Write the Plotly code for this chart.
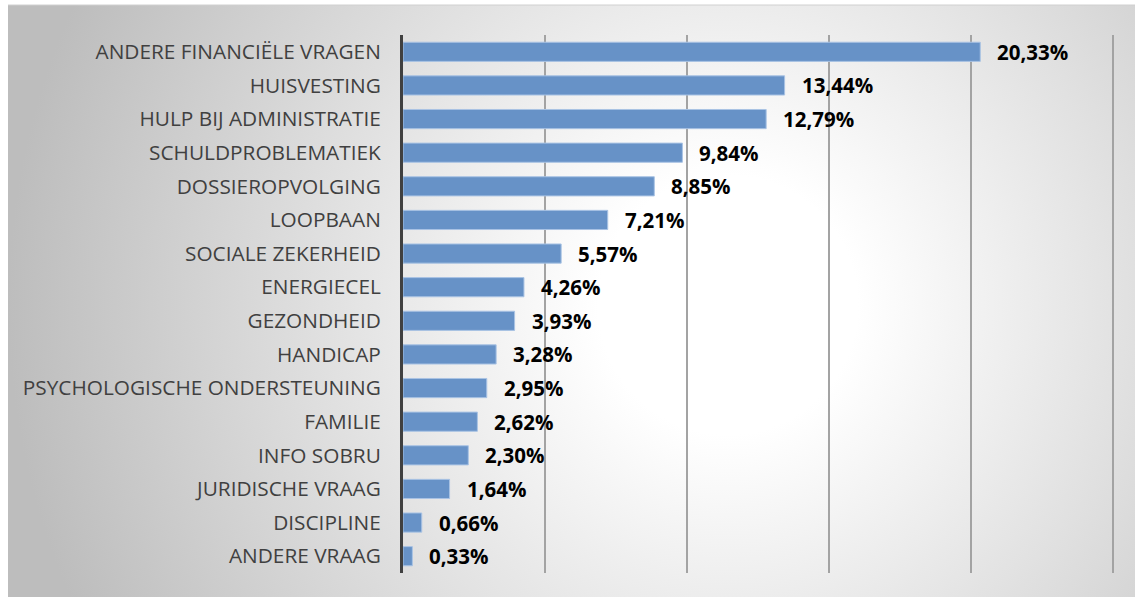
import base64
import plotly.graph_objects as go

categories = [
    "ANDERE FINANCIËLE VRAGEN", "HUISVESTING", "HULP BIJ ADMINISTRATIE",
    "SCHULDPROBLEMATIEK", "DOSSIEROPVOLGING", "LOOPBAAN", "SOCIALE ZEKERHEID",
    "ENERGIECEL", "GEZONDHEID", "HANDICAP", "PSYCHOLOGISCHE ONDERSTEUNING",
    "FAMILIE", "INFO SOBRU", "JURIDISCHE VRAAG", "DISCIPLINE", "ANDERE VRAAG",
]
percentages = [20.33, 13.44, 12.79, 9.84, 8.85, 7.21, 5.57, 4.26, 3.93,
               3.28, 2.95, 2.62, 2.30, 1.64, 0.66, 0.33]
value_labels = [f"{v:.2f}%".replace(".", ",") for v in percentages]

W, H = 1135, 598
L, R, T, B = 403, 21, 35, 25
pw, ph = W - L - R, H - T - B

# radial grey background like the Excel chart area
svg = (
    '<svg xmlns="http://www.w3.org/2000/svg" width="1127" height="592" '
    'viewBox="0 0 1127 592" preserveAspectRatio="none">'
    '<defs><radialGradient id="g" gradientUnits="userSpaceOnUse" cx="720" cy="300" r="720">'
    '<stop offset="0" stop-color="#ffffff"/><stop offset="0.18" stop-color="#ffffff"/>'
    '<stop offset="1" stop-color="#bdbdbd"/></radialGradient></defs>'
    '<rect width="1127" height="592" fill="url(#g)"/></svg>'
)
bg_src = "data:image/svg+xml;base64," + base64.b64encode(svg.encode()).decode()

fig = go.Figure(go.Bar(
    x=percentages,
    y=categories,
    orientation="h",
    marker=dict(color="#6792c7", line=dict(color="#a9c3e4", width=1)),
    width=0.57,
    hoverinfo="skip",
))

for cat, v, lab in zip(categories, percentages, value_labels):
    fig.add_annotation(
        x=v, y=cat, text=f"<b>{lab}</b>", showarrow=False,
        xanchor="left", xshift=15,
        font=dict(family="Open Sans, sans-serif", size=20.5, color="#000000"),
    )

fig.add_layout_image(
    source=bg_src, xref="paper", yref="paper",
    x=(8 - L) / pw, y=(H - B - 5) / ph,
    sizex=(W - 8) / pw, sizey=(597 - 5) / ph,
    xanchor="left", yanchor="top", sizing="stretch", layer="below",
)
# thin frame on top of the chart area
fig.add_shape(
    type="line", xref="paper", yref="paper",
    x0=(8 - L) / pw, x1=(W - L) / pw, y0=(H - B - 5) / ph, y1=(H - B - 5) / ph,
    line=dict(color="#d0d0d0", width=1),
)

fig.update_layout(
    width=W, height=H,
    margin=dict(l=L, r=R, t=T, b=B),
    paper_bgcolor="white",
    plot_bgcolor="rgba(0,0,0,0)",
    showlegend=False,
    xaxis=dict(
        range=[0, 25.04], tickvals=[5, 10, 15, 20, 25], showticklabels=False,
        showgrid=True, gridcolor="#a3a3a3", gridwidth=2,
        zeroline=False, fixedrange=True,
    ),
    yaxis=dict(
        autorange="reversed", showline=True, linecolor="#404040", linewidth=3,
        ticks="", ticklabelstandoff=15,
        tickfont=dict(family="Open Sans, sans-serif", size=20.8, color="#404040"),
        fixedrange=True,
    ),
)

fig.write_html("out.html", config={"displayModeBar": False},
               post_script="document.body.style.margin='0px';")
